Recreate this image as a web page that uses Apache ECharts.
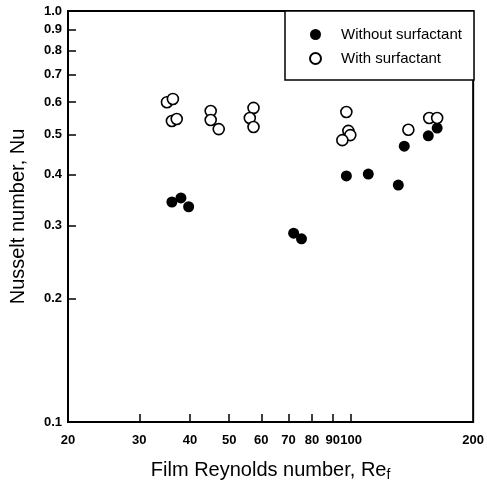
<!DOCTYPE html>
<html>
<head>
<meta charset="utf-8">
<script src="https://cdn.jsdelivr.net/npm/echarts@6/dist/echarts.min.js"></script>
<style>
  html, body { margin: 0; padding: 0; background: #fff; }
  #chart { width: 487px; height: 488px; }
</style>
</head>
<body>
<div id="chart"></div>
<script>
// Re_f and Nu
var withoutRe = [36.1, 38.0, 39.7, 72.1, 75.4, 97.3, 110.2, 130.7, 135.2, 155.0, 163.0];
var withoutNu = [0.343, 0.351, 0.334, 0.288, 0.279, 0.397, 0.401, 0.377, 0.469, 0.497, 0.519];
var withRe = [35.1, 36.3, 36.1, 37.1, 45.0, 45.0, 47.1, 57.4, 56.2, 57.4, 97.3, 98.4, 99.5, 95.1, 138.4, 155.8, 163.0];
var withNu = [0.600, 0.611, 0.540, 0.546, 0.571, 0.543, 0.516, 0.581, 0.549, 0.522, 0.568, 0.511, 0.499, 0.485, 0.514, 0.549, 0.549];

var xLabelVals = [20, 30, 40, 50, 60, 70, 80, 90, 100, 200];
var xTickVals = [30, 40, 50, 60, 70, 80, 90, 100];
var yLabelVals = [0.1, 0.2, 0.3, 0.4, 0.5, 0.6, 0.7, 0.8, 0.9, 1.0];

// log axes are drawn as value axes on log10 of the data
var lg = function (v) { return Math.log10(v); };
var pairs = function (xs, ys) {
  return xs.map(function (x, i) { return [lg(x), lg(ys[i])]; });
};

var chart = echarts.init(document.getElementById('chart'));
var fontFam = '"Liberation Sans", Arial, sans-serif';

var option = {
  animation: false,
  backgroundColor: '#fff',
  textStyle: { fontFamily: fontFam },
  grid: {
    left: 68, right: 13, top: 11, bottom: 66,
    show: true, borderColor: '#000', borderWidth: 2
  },
  graphic: [{
    type: 'rect',
    z: 5,
    shape: { x: 285, y: 11, width: 189, height: 69 },
    style: { fill: '#fff', stroke: '#000', lineWidth: 1.5 }
  }],
  legend: {
    z: 10,
    orient: 'vertical',
    left: 309, top: 27,
    padding: 0,
    itemWidth: 11, itemHeight: 11,
    itemGap: 9,
    textStyle: { fontSize: 15, color: '#000', fontFamily: fontFam, padding: [0, 0, 0, 15] },
    data: ['Without surfactant', 'With surfactant']
  },
  xAxis: {
    type: 'value',
    min: lg(20), max: lg(200),
    name: 'Film Reynolds number, Re{sub|f}',
    nameLocation: 'middle',
    nameGap: 36,
    nameTextStyle: {
      fontSize: 20, color: '#000', fontFamily: fontFam,
      rich: { sub: { fontSize: 14, color: '#000', padding: [10, 0, 0, 0] } }
    },
    splitLine: { show: false },
    axisLine: { show: true, onZero: false, lineStyle: { color: '#000', width: 2 } },
    axisTick: {
      show: true, inside: true, length: 8,
      lineStyle: { color: '#000', width: 1.5 },
      customValues: xTickVals.map(lg)
    },
    axisLabel: {
      color: '#000', fontSize: 13, fontWeight: 'bold', margin: 12, fontFamily: fontFam,
      customValues: xLabelVals.map(lg),
      formatter: function (v) { return String(Math.round(Math.pow(10, v))); }
    }
  },
  yAxis: {
    type: 'value',
    min: -1, max: 0,
    name: 'Nusselt number, Nu',
    nameLocation: 'middle',
    nameGap: 40,
    nameRotate: 90,
    nameTextStyle: { fontSize: 20, color: '#000', fontFamily: fontFam },
    splitLine: { show: false },
    axisLine: { show: true, onZero: false, lineStyle: { color: '#000', width: 2 } },
    axisTick: {
      show: true, inside: true, length: 8,
      lineStyle: { color: '#000', width: 1.5 },
      customValues: yLabelVals.map(lg)
    },
    axisLabel: {
      color: '#000', fontSize: 13, fontWeight: 'bold', margin: 6, fontFamily: fontFam,
      customValues: yLabelVals.map(lg),
      formatter: function (v) { return Math.pow(10, v).toFixed(1); }
    }
  },
  series: [
    {
      name: 'Without surfactant',
      type: 'scatter',
      symbol: 'circle',
      symbolSize: 11,
      itemStyle: { color: '#000', borderColor: '#000', borderWidth: 0, opacity: 1 },
      data: pairs(withoutRe, withoutNu)
    },
    {
      name: 'With surfactant',
      type: 'scatter',
      symbol: 'circle',
      symbolSize: 11,
      itemStyle: { color: '#fff', borderColor: '#000', borderWidth: 1.6, opacity: 1 },
      data: pairs(withRe, withNu)
    }
  ]
};
chart.setOption(option);
</script>
</body>
</html>
